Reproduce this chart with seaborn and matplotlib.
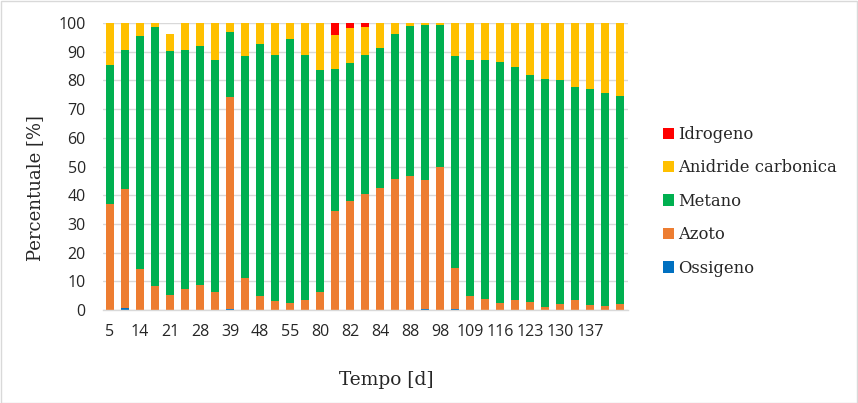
import numpy as np
import pandas as pd
import matplotlib
matplotlib.use("Agg")
import matplotlib.pyplot as plt
import seaborn as sns
from matplotlib.patches import Patch, Rectangle

# ---- data (segment heights, %) ----
tick_labels = ["5", "", "14", "", "21", "", "28", "", "39", "", "48", "", "55", "",
               "80", "", "82", "", "84", "", "88", "", "98", "", "109", "", "116", "",
               "123", "", "130", "", "137", "", ""]
ossigeno = [0, 0.7, 0, 0, 0, 0, 0, 0, 0.3, 0, 0, 0, 0, 0, 0, 0, 0, 0,
            0, 0, 0, 0.3, 0, 0.3, 0, 0, 0, 0, 0, 0, 0, 0, 0, 0, 0]
azoto = [36.9, 41.5, 14.4, 8.4, 5.2, 7.3, 8.7, 6.3, 73.8, 11.3, 4.9, 3.1, 2.6, 3.6,
         6.3, 34.5, 38.0, 40.4, 42.5, 45.6, 46.7, 45.0, 49.8, 14.5, 5.0, 3.9, 2.4,
         3.6, 2.9, 1.2, 2.2, 3.6, 1.9, 1.5, 2.2]
metano = [48.5, 48.4, 81.2, 90.3, 85.0, 83.3, 83.4, 80.8, 22.8, 77.3, 87.9, 85.8,
          91.8, 85.3, 77.3, 49.5, 48.1, 48.5, 48.8, 50.6, 52.3, 54.0, 49.5, 73.7,
          82.1, 83.2, 84.0, 81.1, 79.0, 79.3, 77.9, 74.1, 75.1, 74.1, 72.4]
anidride = [14.6, 9.4, 4.4, 1.3, 6.0, 9.4, 7.9, 12.9, 3.1, 11.4, 7.2, 11.1, 5.6,
            11.1, 16.4, 11.8, 12.3, 9.8, 8.7, 3.8, 1.0, 0.7, 0.7, 11.5, 12.9, 12.9,
            13.6, 15.3, 18.1, 19.5, 19.9, 22.3, 23.0, 24.4, 25.4]
idrogeno = [0, 0, 0, 0, 0, 0, 0, 0, 0, 0, 0, 0, 0, 0, 0, 4.2, 1.6, 1.3,
            0, 0, 0, 0, 0, 0, 0, 0, 0, 0, 0, 0, 0, 0, 0, 0, 0]

series = [("Ossigeno", ossigeno, "#0070C0"),
          ("Azoto", azoto, "#ED7D31"),
          ("Metano", metano, "#00B050"),
          ("Anidride carbonica", anidride, "#FFC000"),
          ("Idrogeno", idrogeno, "#FF0000")]

sns.set_theme(style="white")
plt.rcParams["font.family"] = ["DejaVu Serif"]

W, H = 858, 403
fig = plt.figure(figsize=(W / 100, H / 100), dpi=100)
ax = fig.add_axes([102.5 / W, 1 - 310 / H, 525 / W, 287 / H])

cats = [str(i) for i in range(len(azoto))]
bottom = np.zeros(len(cats))
for name, vals, col in series:
    df = pd.DataFrame({"cat": cats, "val": vals})
    sns.barplot(data=df, x="cat", y="val", order=cats, color=col, bottom=bottom,
                width=0.55, ax=ax, saturation=1, linewidth=0, errorbar=None)
    bottom = bottom + np.array(vals)

ax.set_xlim(-0.5, len(cats) - 0.5)
ax.set_ylim(0, 100)
ax.set_yticks(range(0, 101, 10))
ax.set_yticklabels([str(v) for v in range(0, 101, 10)], family="Open Sans", fontsize=11.5)
ax.set_xticks(range(len(cats)))
ax.set_xticklabels(tick_labels, family="Open Sans", fontsize=11.5)
ax.tick_params(axis="both", length=0)
ax.tick_params(axis="y", pad=12)
ax.tick_params(axis="x", pad=10)
ax.grid(axis="y", color="#D9D9D9", linewidth=1)
ax.set_axisbelow(True)
for s in ["top", "right", "left"]:
    ax.spines[s].set_visible(False)
ax.spines["bottom"].set_color("#D9D9D9")
ax.spines["bottom"].set_linewidth(1)

ax.set_xlabel("Tempo [d]", fontsize=13.4)
ax.xaxis.set_label_coords(0.54, -0.245)
ax.xaxis.label.set_va("center")
ax.set_ylabel("Percentuale [%]", fontsize=13)
ax.yaxis.set_label_coords(-0.1286, 0.425)
ax.yaxis.label.set_va("center")

handles = [Patch(facecolor=c, edgecolor="none", label=n) for n, v, c in series][::-1]
fig.legend(handles=handles, loc="upper left", bbox_to_anchor=(663 / W, 1 - 126 / H),
           frameon=False, fontsize=11.8, handlelength=0.7, handleheight=0.7,
           handletextpad=0.25, labelspacing=1.0, borderpad=0, borderaxespad=0)

fig.patches.append(Rectangle((0.5 / W, 0.5 / H), 1 - 1.5 / W, 1 - 1.5 / H,
                             transform=fig.transFigure, fill=False,
                             edgecolor="#D9D9D9", linewidth=1))

fig.savefig("out.png", dpi=100)
